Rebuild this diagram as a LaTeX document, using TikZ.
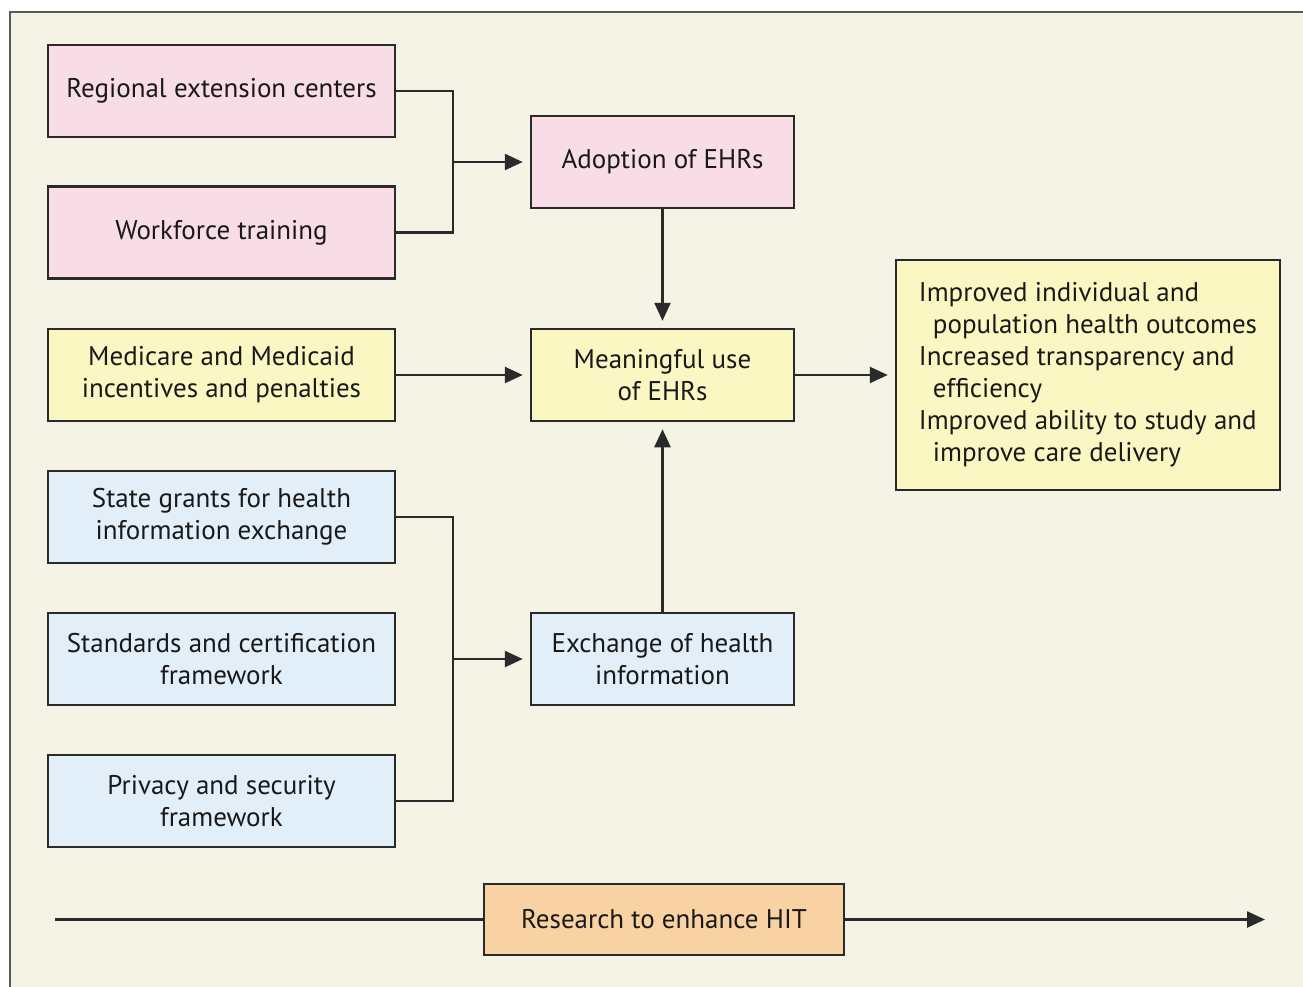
\documentclass[tikz,border=0pt]{standalone}
\usepackage{fontspec}
\setmainfont{PT Sans}
\usetikzlibrary{arrows.meta}
\definecolor{bgcream}{HTML}{F5F3E6}
\definecolor{pinkf}{HTML}{F9DDE6}
\definecolor{yellowf}{HTML}{FBF7C2}
\definecolor{bluef}{HTML}{E3EFF8}
\definecolor{orangef}{HTML}{F8D2A2}
\definecolor{linec}{HTML}{2A2A2A}
\definecolor{framec}{HTML}{5A5A5A}
\tikzset{
  box/.style={draw=linec, line width=2.5pt, inner sep=0pt, align=center,
    font=\fontsize{27}{32}\selectfont, text=black!90},
  leftbox/.style={box, minimum width=347pt, minimum height=92pt},
  midbox/.style={box, minimum width=263pt, minimum height=92pt},
  conn/.style={draw=linec, line width=2.5pt},
  arr/.style={conn, -{Triangle[length=18pt,width=16pt]}, shorten >=7pt},
}
\begin{document}
\begin{tikzpicture}[x=1pt,y=-1pt]
\useasboundingbox (0,0) rectangle (1303,987);
\fill[white] (0,0) rectangle (1303,987);
\fill[bgcream] (10,12) rectangle (1320,1000);
\draw[framec, line width=2.5pt] (10,1000) -- (10,12) -- (1320,12);

\node[leftbox, fill=pinkf] (reg) at (221.5,91) {Regional extension centers};
\node[leftbox, fill=pinkf] (wf) at (221.5,232.5) {Workforce training};
\node[leftbox, fill=yellowf] (med) at (221.5,375) {Medicare and Medicaid\\incentives and penalties};
\node[leftbox, fill=bluef] (sg) at (221.5,517) {State grants for health\\information exchange};
\node[leftbox, fill=bluef] (sc) at (221.5,659) {Standards and certification\\framework};
\node[leftbox, fill=bluef] (pv) at (221.5,801) {Privacy and security\\framework};

\node[midbox, fill=pinkf] (adopt) at (662.5,162) {Adoption of EHRs};
\node[midbox, fill=yellowf] (mu) at (662.5,375) {Meaningful use\\of EHRs};
\node[midbox, fill=bluef] (ex) at (662.5,659) {Exchange of health\\information};

\node[box, fill=yellowf, minimum width=384pt, minimum height=230pt, align=left] (out) at (1088,375)
  {Improved individual and\\\hspace*{14pt}population health outcomes\\Increased transparency and\\\hspace*{14pt}efficiency\\Improved ability to study and\\\hspace*{14pt}improve care delivery};

\node[box, fill=orangef, minimum width=360pt, minimum height=71pt] (res) at (664,919.5) {Research to enhance HIT};

\coordinate (j1) at (453,162);
\coordinate (j2) at (453,659);
\coordinate (rl) at (55,919.5);
\coordinate (rr) at (1265,919.5);

\draw[conn] (reg.east) -| (j1) |- (wf.east);
\draw[arr] (j1) -- (adopt.west);
\draw[conn] (sg.east) -| (j2) |- (pv.east);
\draw[arr] (j2) -- (ex.west);
\draw[arr] (med.east) -- (mu.west);
\draw[arr] (adopt.south) -- (mu.north);
\draw[arr] (ex.north) -- (mu.south);
\draw[arr] (mu.east) -- (out.west);
\draw[conn] (rl) -- (res.west);
\draw[conn, -{Triangle[length=18pt,width=16pt]}] (res.east) -- (rr);
\end{tikzpicture}
\end{document}
